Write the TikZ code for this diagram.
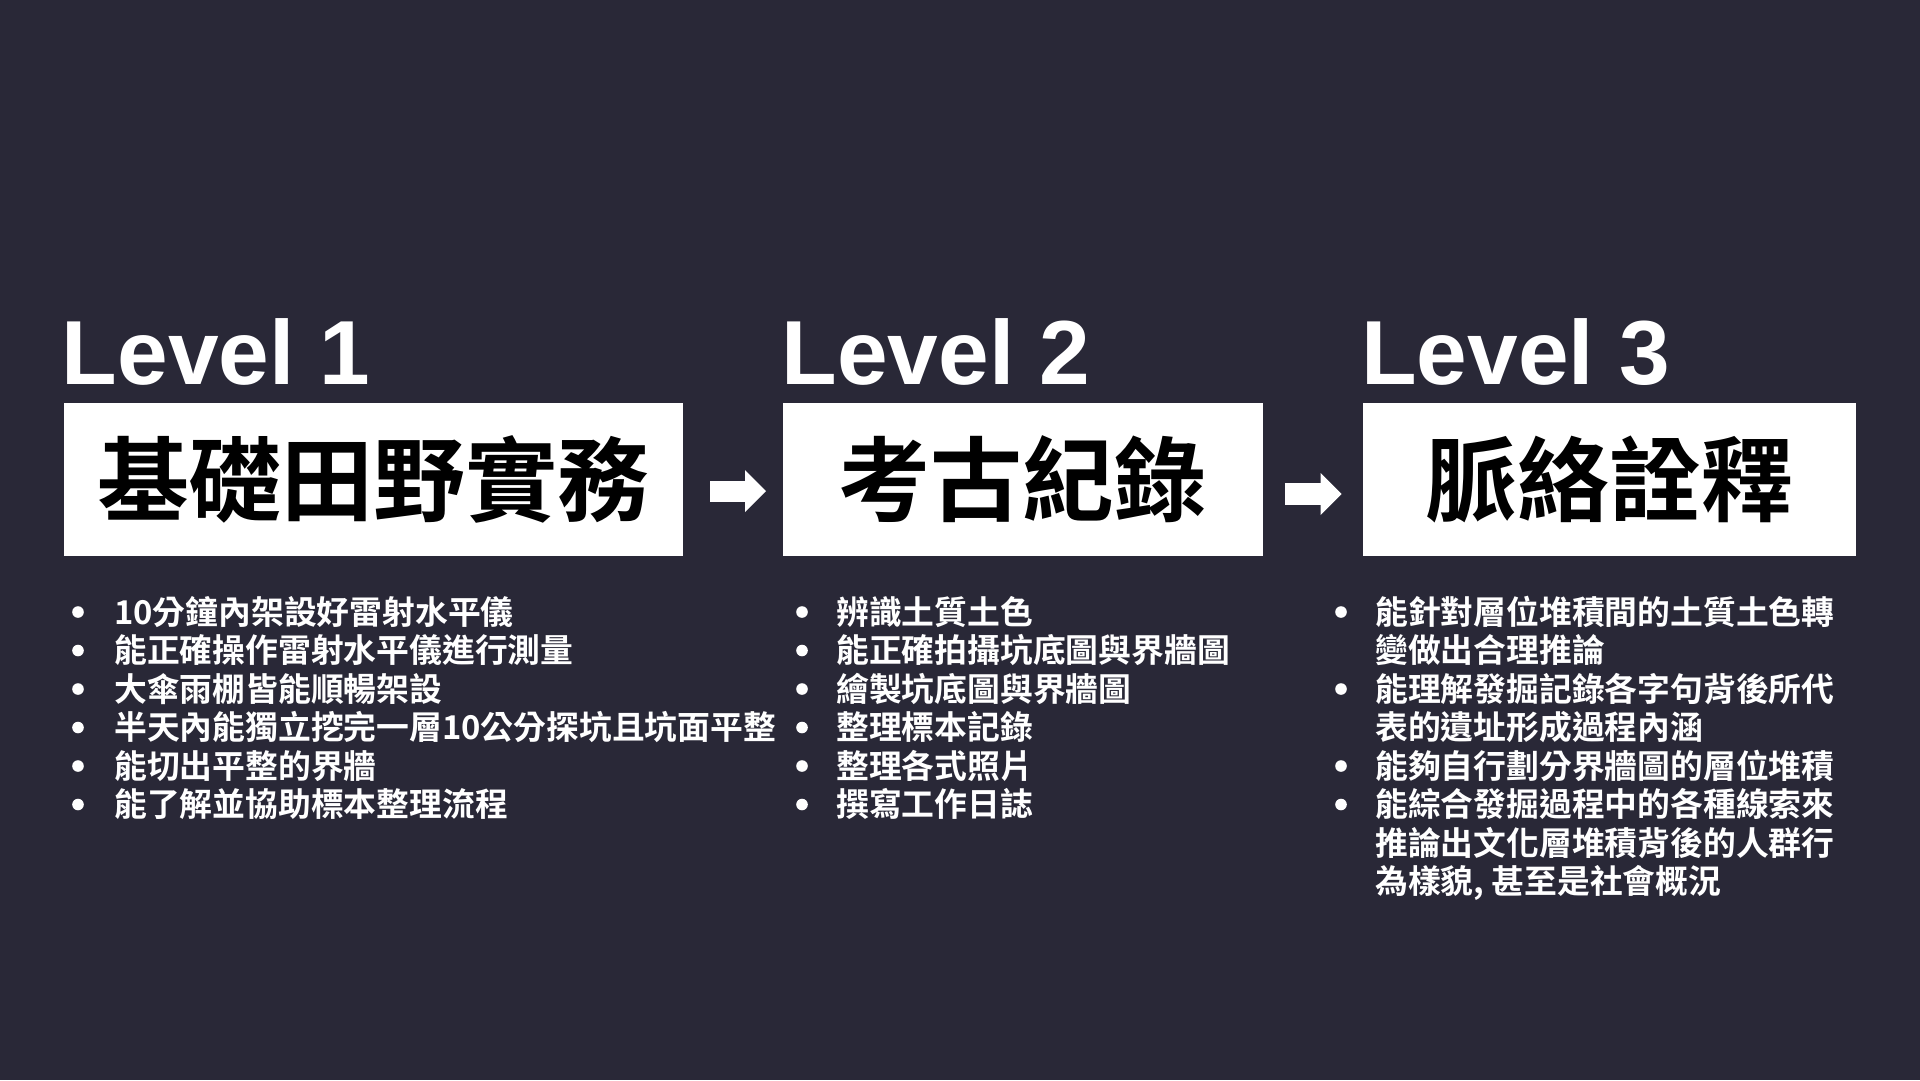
\documentclass[tikz,border=0pt]{standalone}
\usepackage{fontspec}
\setmainfont{Liberation Sans}
\newfontfamily\cjk{Noto Sans CJK TC}[BoldFont={Noto Sans CJK TC Bold}]
\usetikzlibrary{arrows.meta,positioning}
\definecolor{slide-bg}{HTML}{292837}

\tikzset{
  levelbox/.style={fill=white, inner sep=0pt, minimum height=153pt,
    text=black, font=\cjk\bfseries\fontsize{92}{100}\selectfont},
  levelname/.style={anchor=base west, inner sep=0pt, text=white,
    font=\bfseries\fontsize{91}{100}\selectfont},
  itemtext/.style={anchor=base west, inner sep=0pt, text=white,
    font=\cjk\bfseries\fontsize{32.8}{38}\selectfont},
  blockarrow/.style={white, line width=21pt,
    -{Triangle[length=21pt, width=42pt, line width=0pt 0 0]}},
}

\begin{document}
\begin{tikzpicture}[x=1pt, y=-1pt]
    \fill[slide-bg] (0,0) rectangle (1920,1080);
    \useasboundingbox (0,0) rectangle (1920,1080);
    % the three level boxes
    \node[levelbox, minimum width=619pt] (b1) at (373.4,479.5) {基礎田野實務};
    \node[levelbox, minimum width=480pt] (b2) at (1022.7,479.5) {考古紀錄};
    \node[levelbox, minimum width=493pt] (b3) at (1609.7,479.5) {脈絡詮釋};
    \node[levelname] (l1) at ([xshift=-2pt, yshift=18pt]b1.north west) {Level 1};
    \node[levelname] (l2) at ([xshift=-1pt, yshift=18pt]b2.north west) {Level 2};
    \node[levelname] (l3) at ([xshift=-2pt, yshift=18pt]b3.north west) {Level 3};
    % arrows between levels
    \draw[blockarrow, shorten <=27pt, shorten >=16.5pt]
          ([yshift=-11.5pt]b1.east) -- ([yshift=-11.5pt]b2.west);
    \draw[blockarrow, line width=22pt, shorten <=22pt, shorten >=21.5pt]
          ([yshift=-14.5pt]b2.east) -- ([yshift=-14.5pt]b3.west);
    % skill lists
    \foreach \t [count=\i] in {10分鐘內架設好雷射水平儀, 能正確操作雷射水平儀進行測量,
        大傘雨棚皆能順暢架設, 半天內能獨立挖完一層10公分探坑且坑面平整,
        能切出平整的界牆, 能了解並協助標本整理流程} {
      \fill[white] (78,{612+(\i-1)*38.5}) circle (5.8pt);
      \node[itemtext] (s1-\i) at (114,{624+(\i-1)*38.5}) {\t};
    }
    \foreach \t [count=\i] in {辨識土質土色, 能正確拍攝坑底圖與界牆圖, 繪製坑底圖與界牆圖,
        整理標本記錄, 整理各式照片, 撰寫工作日誌} {
      \fill[white] (802,{612+(\i-1)*38.5}) circle (5.8pt);
      \node[itemtext] (s2-\i) at (836,{624+(\i-1)*38.5}) {\t};
    }
    \foreach \f/\t [count=\i] in {1/能針對層位堆積間的土質土色轉, 0/變做出合理推論,
        1/能理解發掘記錄各字句背後所代, 0/表的遺址形成過程內涵,
        1/能夠自行劃分界牆圖的層位堆積, 1/能綜合發掘過程中的各種線索來,
        0/推論出文化層堆積背後的人群行, 0/{為樣貌, 甚至是社會概況}} {
      \ifnum\f=1 \fill[white] (1341,{612+(\i-1)*38.5}) circle (5.8pt); \fi
      \node[itemtext] (s3-\i) at (1375,{624+(\i-1)*38.5}) {\t};
    }
\end{tikzpicture}
\end{document}
